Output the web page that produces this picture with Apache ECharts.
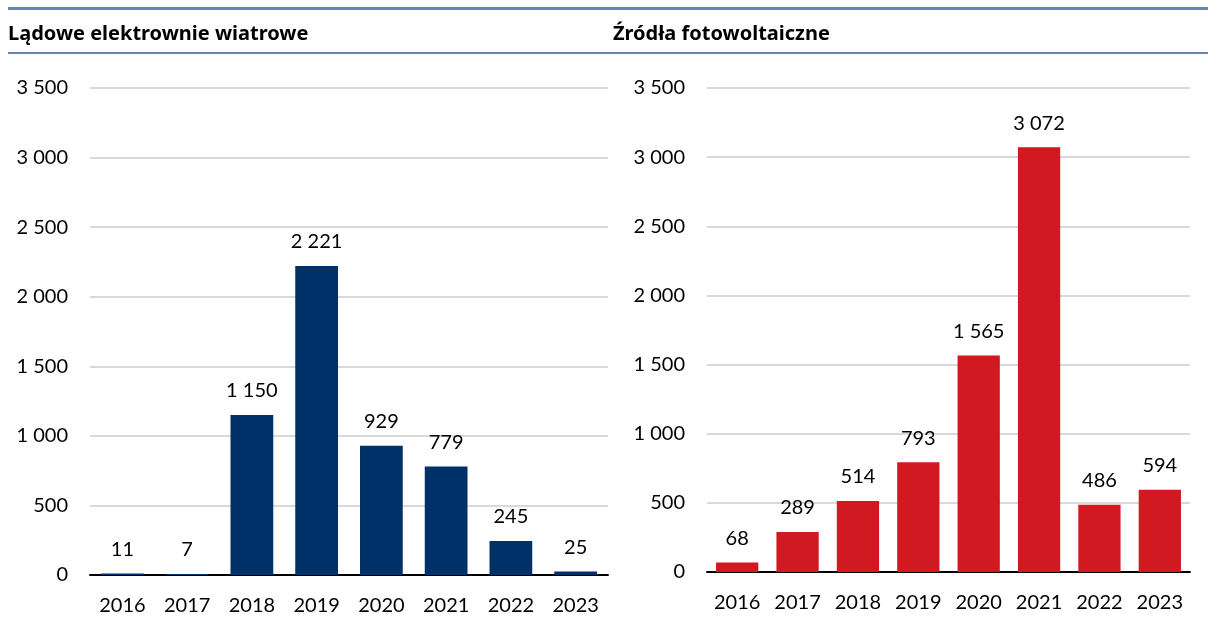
<!DOCTYPE html>
<html>
<head>
<meta charset="utf-8">
<script src="https://cdn.jsdelivr.net/npm/echarts@6/dist/echarts.min.js"></script>
<style>
  html, body { margin: 0; padding: 0; background: #fff; }
  #chart { width: 1208px; height: 639px; }
</style>
</head>
<body>
<div id="chart"></div>
<script>
var years = ['2016', '2017', '2018', '2019', '2020', '2021', '2022', '2023'];
var windValues = [11, 7, 1150, 2221, 929, 779, 245, 25];
var pvValues = [68, 289, 514, 793, 1565, 3072, 486, 594];
var titles = ['Lądowe elektrownie wiatrowe', 'Źródła fotowoltaiczne'];

var FONT = 'Lato';

// 1 150 -> spacja jako separator tysięcy
function fmt(v) {
    return String(v).replace(/\B(?=(\d{3})+(?!\d))/g, ' ');
}

function yAxis(gridIndex) {
    return {
        gridIndex: gridIndex,
        type: 'value',
        min: 0,
        max: 3500,
        interval: 500,
        axisLabel: { color: '#000', fontFamily: FONT, fontSize: 20, margin: 22, formatter: fmt },
        axisLine: { show: false },
        axisTick: { show: false },
        splitLine: { lineStyle: { color: '#d9d9d9', width: 2 } }
    };
}

function xAxis(gridIndex) {
    return {
        gridIndex: gridIndex,
        type: 'category',
        data: years,
        axisLabel: { color: '#000', fontFamily: FONT, fontSize: 20, margin: 21 },
        axisLine: { lineStyle: { color: '#000', width: 2 } },
        axisTick: { show: false }
    };
}

function barSeries(idx, values, color, width) {
    return {
        type: 'bar',
        xAxisIndex: idx,
        yAxisIndex: idx,
        data: values,
        barWidth: width,
        itemStyle: { color: color },
        label: {
            show: true,
            position: 'top',
            distance: 14,
            color: '#000',
            fontFamily: FONT,
            fontSize: 20,
            formatter: function (p) { return fmt(p.value); }
        }
    };
}

var myChart = echarts.init(document.getElementById('chart'));
myChart.setOption({
    backgroundColor: '#fff',
    animation: false,
    graphic: [
        { type: 'rect', shape: { x: 8, y: 7, width: 1200, height: 3 }, style: { fill: '#6a7fb8' } },
        { type: 'rect', shape: { x: 8, y: 52, width: 1200, height: 2 }, style: { fill: '#6a7fb8' } },
        { type: 'text', x: 8, y: 34, style: { text: titles[0], font: 'bold 20px "Noto Sans"', fill: '#000', verticalAlign: 'middle' } },
        { type: 'text', x: 613, y: 34, style: { text: titles[1], font: 'bold 20px "Noto Sans"', fill: '#000', verticalAlign: 'middle' } }
    ],
    grid: [
        { left: 90, right: 600, top: 88, bottom: 64 },
        { left: 707, right: 18, top: 88, bottom: 67 }
    ],
    xAxis: [xAxis(0), xAxis(1)],
    yAxis: [yAxis(0), yAxis(1)],
    series: [
        barSeries(0, windValues, '#003068', '66%'),
        barSeries(1, pvValues, '#d01920', '70%')
    ]
});
</script>
</body>
</html>
